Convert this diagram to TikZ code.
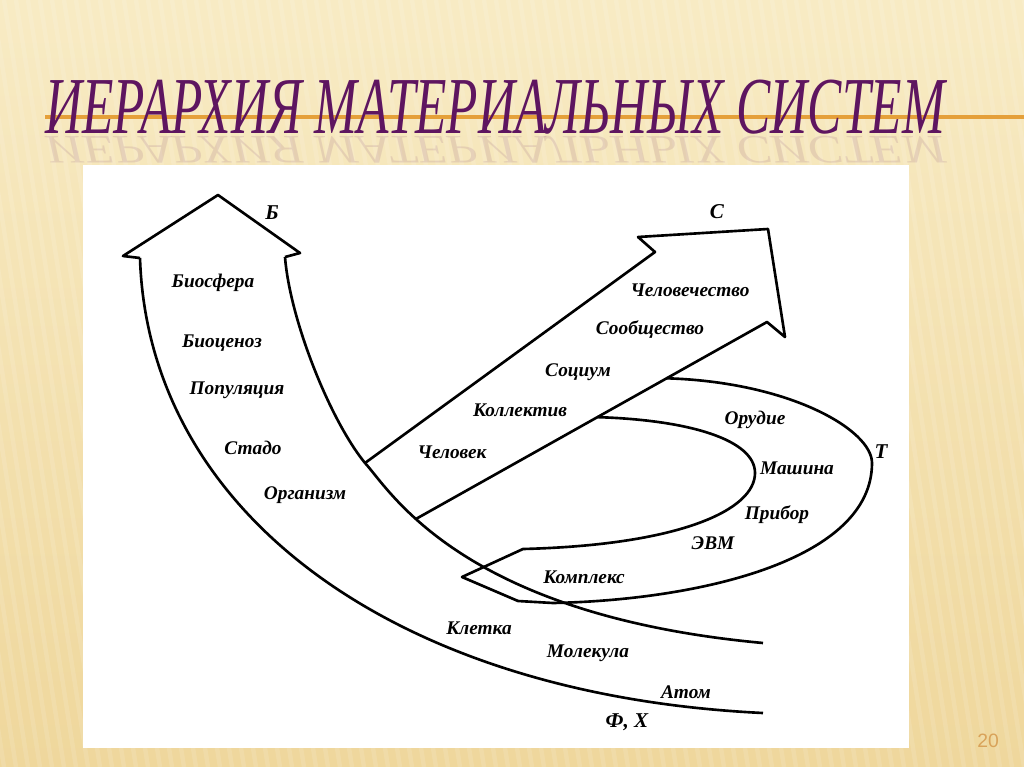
\documentclass[tikz,border=0pt]{standalone}
\usepackage{fontspec}
\setmainfont{Liberation Serif}
\newfontfamily\numfont{Liberation Sans}
\usetikzlibrary{positioning}

\definecolor{paperlight}{HTML}{F8EBC4}
\definecolor{paperdark}{HTML}{EFD79C}
\definecolor{titlepurple}{HTML}{5E1560}
\definecolor{rulecolor}{HTML}{E5A03A}
\definecolor{pagenum}{HTML}{D9A35A}

\tikzset{
	lbl/.style={font=\fontsize{11}{13}\selectfont\bfseries\itshape, inner sep=0pt},
	axislbl/.style={font=\fontsize{12}{14}\selectfont\bfseries\itshape, inner sep=0pt},
	outline/.style={black, line width=1.5pt, line join=round},
	slidetitle/.style={font=\fontsize{46}{50}\selectfont\itshape, text=titlepurple, inner sep=0pt, xscale=0.635},
}

\begin{document}
\begin{tikzpicture}[x=0.02cm,y=-0.02cm]
	\useasboundingbox (0,0) rectangle (1024,767);
	% background
	\shade[top color=paperlight, bottom color=paperdark] (0,0) rectangle (1024,767);
	\foreach \i in {-200,-188,...,1030}
		\draw[white, opacity=0.12, line width=2.5pt] (\i,0) -- (\i+120,767);
	\draw[rulecolor, line width=1.8pt] (45,117) -- (1024,117);
	\node[slidetitle, anchor=base] (title) at (495,133) {ИЕРАРХИЯ МАТЕРИАЛЬНЫХ СИСТЕМ};
	\node[slidetitle, anchor=base, yscale=-0.5, opacity=0.11] (titlerefl) at (495,136) {ИЕРАРХИЯ МАТЕРИАЛЬНЫХ СИСТЕМ};
	\node[font=\numfont\fontsize{11}{13}\selectfont, text=pagenum] (pnum) at (988,741) {20};
	% panel
	\fill[white] (83,165) rectangle (909,748);

	% B arrow
	\coordinate (btip) at (218,195);
	\draw[outline] (140,258) -- (123,256) -- (btip) -- (300,253) -- (285,257);
	\draw[outline] (140,258) .. controls (148,510) and (390,695) .. (763,713);
	\draw[outline] (285,257) .. controls (290,320) and (330,420) .. (365,463) coordinate (bc1)
		.. controls (390,490) and (460,615) .. (763,643) coordinate[pos=0.35] (bc2);

	% C arrow
	\coordinate (ctip) at (785,337);
	\draw[outline] (bc1) -- (655,252) -- (638,237) -- (768,229) -- (ctip) -- (767,322)
		-- coordinate[pos=0.2857] (ct1) coordinate[pos=0.4829] (ct2) (bc2);

	% T arrow
	\coordinate (ttip) at (462,577);
	\draw[outline] (ct1) .. controls (790,382) and (872,430) .. (872,463)
		.. controls (872,560) and (700,600) .. (553,603)
		-- (518,601) -- (ttip) -- (523,549)
		.. controls (680,545) and (755,510) .. (755,473)
		.. controls (755,440) and (690,420) .. (ct2);

	% labels
	\node[axislbl] (B) at (272,213) {Б};
	\node[axislbl] (C) at (717,212) {С};
	\node[axislbl] (T) at (881,452) {Т};
	\node[axislbl] (FX) at (627,722) {Ф, Х};

	\node[lbl] (biosfera) at (213,283) {Биосфера};
	\node[lbl] (biocenoz) at (222,343) {Биоценоз};
	\node[lbl] (populyac) at (237,390) {Популяция};
	\node[lbl] (stado) at (253,448) {Стадо};
	\node[lbl] (organizm) at (305,495) {Организм};

	\node[lbl] (chelovechestvo) at (690,290) {Человечество};
	\node[lbl] (soobshchestvo) at (650,330) {Сообщество};
	\node[lbl] (socium) at (578,372) {Социум};
	\node[lbl] (kollektiv) at (520,410) {Коллектив};
	\node[lbl] (chelovek) at (452,452) {Человек};

	\node[lbl] (orudie) at (755,420) {Орудие};
	\node[lbl] (mashina) at (797,468) {Машина};
	\node[lbl] (pribor) at (777,515) {Прибор};
	\node[lbl] (evm) at (713,543) {ЭВМ};
	\node[lbl] (kompleks) at (584,577) {Комплекс};

	\node[lbl] (kletka) at (479,628) {Клетка};
	\node[lbl] (molekula) at (588,653) {Молекула};
	\node[lbl] (atom) at (686,692) {Атом};
\end{tikzpicture}
\end{document}
